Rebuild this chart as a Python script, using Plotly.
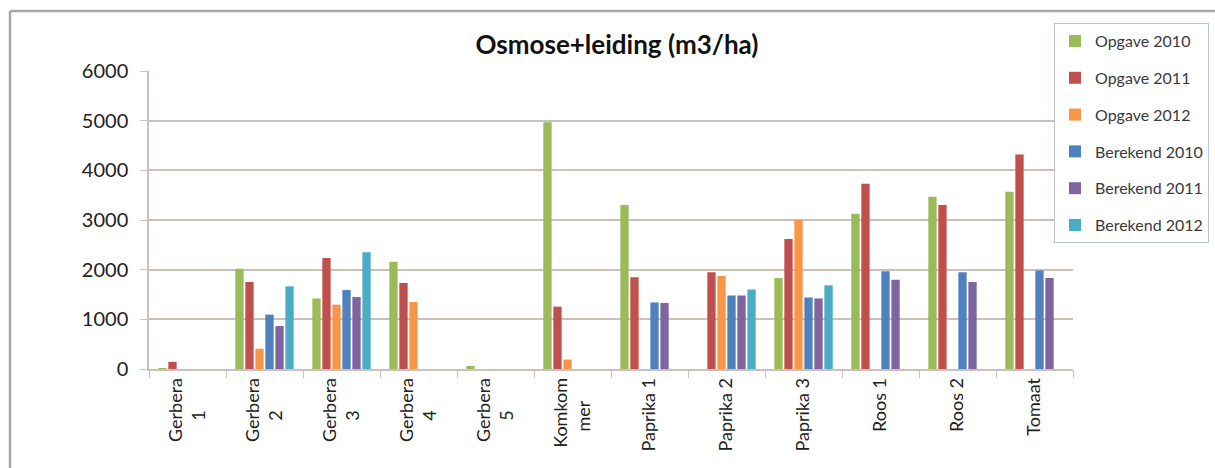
import plotly.graph_objects as go

NB = "\u00a0"
categories = ["Gerbera<br>1" + NB * 7, "Gerbera<br>2" + NB * 7, "Gerbera<br>3" + NB * 7,
              "Gerbera<br>4" + NB * 7, "Gerbera<br>5" + NB * 7, "Komkom<br>mer" + NB * 5,
              "Paprika 1", "Paprika 2", "Paprika 3", "Roos 1", "Roos 2", "Tomaat"]

opgave_2010 = [20, 2020, 1420, 2160, 60, 4970, 3300, 0, 1830, 3125, 3470, 3570]
opgave_2011 = [145, 1750, 2235, 1730, 0, 1255, 1845, 1950, 2615, 3730, 3300, 4320]
opgave_2012 = [0, 410, 1295, 1350, 0, 190, 0, 1870, 3005, 0, 0, 0]
berekend_2010 = [0, 1095, 1590, 0, 0, 0, 1340, 1480, 1440, 1970, 1950, 1985]
berekend_2011 = [0, 865, 1450, 0, 0, 0, 1330, 1480, 1420, 1795, 1750, 1830]
berekend_2012 = [0, 1665, 2350, 0, 0, 0, 0, 1600, 1685, 0, 0, 0]

series = [
    ("Opgave 2010", opgave_2010, "#9BBB59"),
    ("Opgave 2011", opgave_2011, "#C0504D"),
    ("Opgave 2012", opgave_2012, "#F79646"),
    ("Berekend 2010", berekend_2010, "#4F81BD"),
    ("Berekend 2011", berekend_2011, "#8064A2"),
    ("Berekend 2012", berekend_2012, "#4BACC6"),
]

FONT = "Lato"
W, H = 1215, 468
L, R, T, B = 149, 142, 71, 98.5
pw, ph = W - L - R, H - T - B

fig = go.Figure()
for i, (name, vals, col) in enumerate(series):
    fig.add_trace(go.Bar(
        x=categories, y=vals, name=name, marker_color=col, marker_line_width=0,
        legendgroup=f"g{i}",
    ))

grid = "#CDBFBB"

def px_x(p):
    return (p - L) / pw

def px_y(p):
    return (H - B - p) / ph

fig.update_layout(
    width=W, height=H,
    margin=dict(l=L, r=R, t=T, b=B, autoexpand=False),
    paper_bgcolor="white", plot_bgcolor="white",
    barmode="group", bargap=0.22, bargroupgap=0.17,
    font=dict(family=FONT, color="#222222"),
    title=dict(text="<b>Osmose+leiding (m3/ha)</b>", x=617 / W, xref="container",
               y=1 - 45 / H, yref="container", xanchor="center", yanchor="middle",
               font=dict(family=FONT, size=26, color="#111111")),
    legend=dict(x=px_x(1054), y=px_y(23), xanchor="left", yanchor="top",
                xref="paper", yref="paper",
                bgcolor="white", bordercolor="#B8C4D4", borderwidth=1,
                font=dict(family=FONT, size=16, color="#3A3A3A"),
                traceorder="grouped", tracegroupgap=13),
    showlegend=True,
    xaxis=dict(showline=True, linecolor=grid, linewidth=1.5, ticks="outside",
               tickson="boundaries", ticklen=7, tickcolor=grid, tickangle=-90,
               tickfont=dict(family=FONT, size=18, color="#222222"),
               showgrid=False, automargin=False),
    yaxis=dict(range=[0, 6000], dtick=1000, showline=True, linecolor=grid, linewidth=1.5,
               ticks="outside", ticklen=7, tickcolor=grid, gridcolor=grid, gridwidth=1.5,
               tickfont=dict(family=FONT, size=20, color="#222222"), zeroline=False,
               ticklabelstandoff=8, automargin=False),
    shapes=[
        dict(type="line", xref="paper", yref="paper", x0=px_x(10), x1=px_x(1216),
             y0=px_y(11), y1=px_y(11), line=dict(color="#A6A6A6", width=2.5), layer="above"),
        dict(type="line", xref="paper", yref="paper", x0=px_x(10), x1=px_x(10),
             y0=px_y(11), y1=px_y(470), line=dict(color="#A6A6A6", width=2.5), layer="above"),
    ],
)

fig.write_html("out.html", config={"displayModeBar": False},
               post_script="document.body.style.margin='0';document.body.style.overflow='hidden';")
